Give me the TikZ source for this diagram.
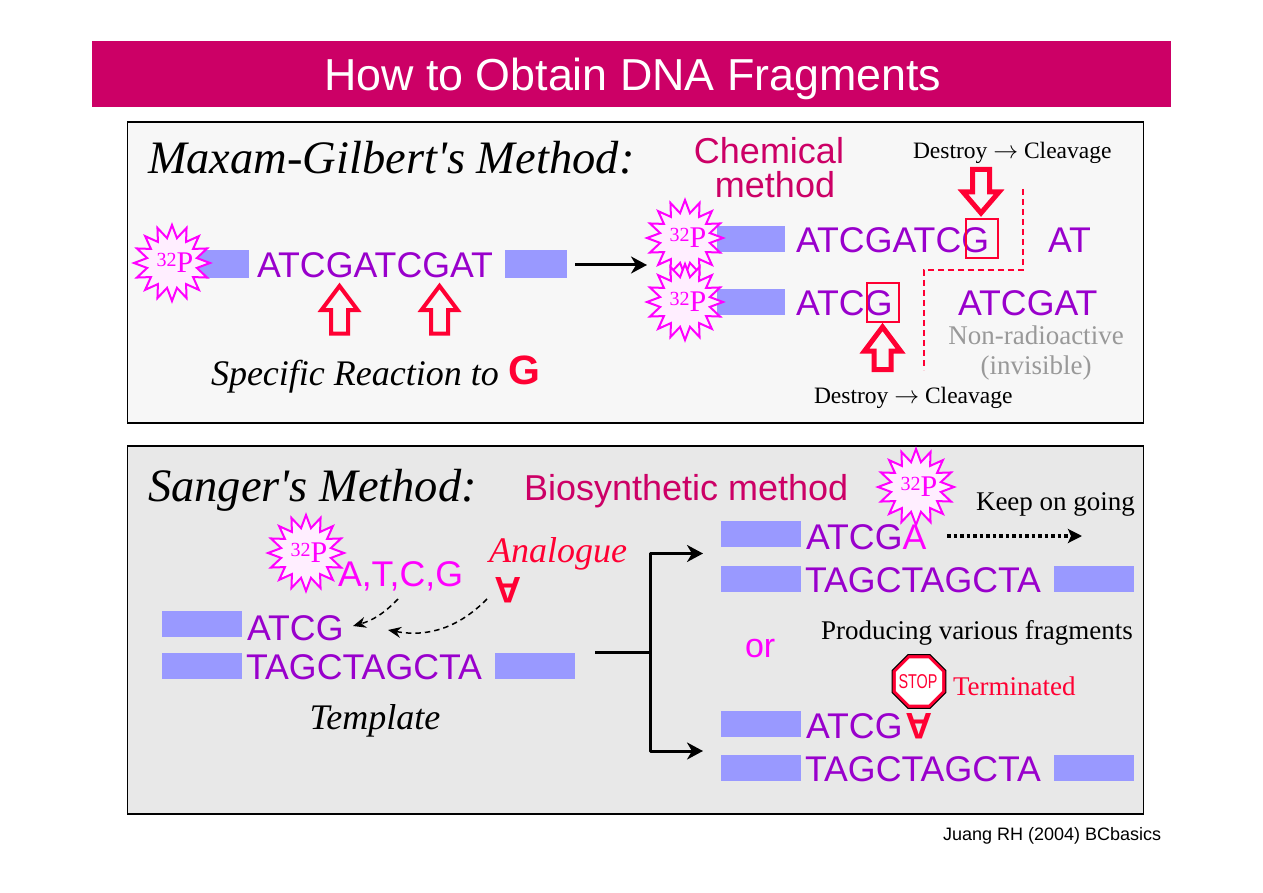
\documentclass[tikz,border=0pt]{standalone}
\usepackage{fontspec}
\setmainfont[Ligatures=TeXOff]{Liberation Serif}
\setsansfont{Liberation Sans}
\usetikzlibrary{shapes.geometric,arrows.meta}
\definecolor{band}{HTML}{CC0066}
\definecolor{purp}{HTML}{9900CC}
\definecolor{magn}{HTML}{FF00FF}
\definecolor{redd}{HTML}{FF0033}
\definecolor{barb}{HTML}{9999FF}
\definecolor{pfill}{HTML}{FFEEFF}
\newcommand{\fs}[1]{\fontsize{#1}{#1}\selectfont}
\newcommand{\sci}{{\fs{20}\raisebox{6pt}{32}}{\fs{30}P}}
\newcommand{\dc}{Destroy $\rightarrow$ Cleavage}
\tikzset{
  x=1pt,y=-1pt,
  txt/.style={inner sep=0,outer sep=0,anchor=base west},
  dna/.style={txt,font=\sffamily\fs{35.7},text=purp},
  ser/.style={txt,font=\fs{27},text=black},
  dcs/.style={txt,font=\fs{23.5},text=black},
  ttl/.style={txt,font=\itshape\fs{46.5},text=black},
  ital/.style={txt,font=\itshape\fs{36},text=black},
  meth/.style={txt,font=\sffamily\fs{36},text=band},
  bar/.style={fill=barb,draw=none,minimum width=80pt,minimum height=26pt,inner sep=0,outer sep=0,anchor=north west},
  panel/.style={draw=black,line width=1.5pt,inner sep=0,outer sep=0,anchor=north west,minimum width=1016pt},
  burst/.style={star,star points=16,star point ratio=1.5,minimum size=76pt,inner sep=0,outer sep=0,draw=magn,line width=2pt,fill=pfill},
  bursttxt/.style={inner sep=0,outer sep=0,text=magn,font=\fs{31}},
  hollow/.style={draw=redd,line width=4pt,miter limit=10,fill=none},
  hollowb/.style={draw=redd,line width=5pt,miter limit=10,fill=none},
  gbox/.style={draw=redd,line width=1.6pt,inner sep=0,minimum width=32pt,minimum height=39pt,anchor=north west},
  conn/.style={-{Stealth[length=16pt,width=17pt,inset=5pt]},line width=3pt,black},
  elb/.style={-{Stealth[length=16pt,width=17pt,inset=5pt]},line width=3pt,black,line join=round},
  dsh/.style={-{Stealth[length=13pt,width=11pt]},line width=1.5pt,dash pattern=on 5.5pt off 4pt,black},
  flip/.style={inner sep=0,outer sep=0,rotate=180,font=\sffamily\bfseries\fs{37},text=redd},
}
\newcommand{\uparr}[4][hollow]{\draw[#1] (#2,#3) -- (#2+18,#3+24) -- (#2+8.5,#3+24) -- (#2+8.5,#4) -- (#2-8.5,#4) -- (#2-8.5,#3+24) -- (#2-18,#3+24) -- cycle;}
\newcommand{\dnarr}[4][hollowb]{\draw[#1] (#2,#3) -- (#2+18,#3-21) -- (#2+8.5,#3-21) -- (#2+8.5,#4) -- (#2-8.5,#4) -- (#2-8.5,#3-21) -- (#2-18,#3-21) -- cycle;}
\begin{document}
\begin{tikzpicture}
\useasboundingbox (0,0) rectangle (1263,893);
\fill[white] (0,0) rectangle (1263,893);
% title
\node[fill=band,inner sep=0,outer sep=0,minimum width=1079pt,minimum height=66pt,anchor=north west] (titleband) at (92,41) {};
\node[txt,font=\sffamily\fs{44.8},text=white] (title) at (324,91) {How to Obtain DNA Fragments};
% panels
\node[panel,fill=black!3,minimum height=301pt] (panelA) at (127.5,122) {};
\node[panel,fill=black!9,minimum height=368pt] (panelB) at (127.5,446) {};
% upper panel
\node[ttl] (mg) at (148,174) {Maxam-Gilbert's Method:};
\node[anchor=base,inner sep=0,font=\sffamily\fs{36},text=band] (chem) at (769,164) {Chemical};
\node[anchor=base,inner sep=0,font=\sffamily\fs{36},text=band] (chem2) at (775,198) {method};
\node[dcs] (d1) at (913,159) {\dc};
\node[dcs] (d2) at (814,403) {\dc};
\node[bar,minimum width=62pt,minimum height=28pt] (b1) at (187,250) {};
\node[bar,minimum width=62pt,minimum height=28pt] (b2) at (505,250) {};
\node[burst] (p1) at (172,263) {};
\node[bursttxt] (p1t) at (175,263) {\sci};
\node[dna] (s1) at (257,277) {ATCGATCGAT};
\coordinate (a1s) at (575,265);
\coordinate (a1e) at (647,265);
\draw[conn] (a1s) -- (a1e);
\uparr{339.5}{286}{333.5}
\uparr{439.5}{286}{333.5}
\node[ital] (spec) at (211,385) {Specific Reaction to};
\node[txt,font=\sffamily\bfseries\fs{41},text=redd] (bigG) at (508,384) {G};
\node[bar,minimum width=68pt] (b3) at (717,226) {};
\node[bar,minimum width=68pt] (b4) at (717,289) {};
\node[burst] (p2) at (685,238) {};
\node[bursttxt] (p2t) at (688,238) {\sci};
\node[burst] (p3) at (685,302) {};
\node[bursttxt] (p3t) at (688,302) {\sci};
\node[dna] (s2) at (796,253) {ATCGATCG};
\node[dna] (s3) at (1048,253) {AT};
\node[dna] (s4) at (796,316) {ATCG};
\node[dna] (s5) at (958,316) {ATCGAT};
\node[gbox] (g1) at (965,218) {};
\node[gbox] (g2) at (866,282) {};
\dnarr{981}{213}{169.5}
\uparr[hollowb]{882.5}{327}{369.5}
\draw[redd,line width=1.5pt,dash pattern=on 6pt off 4pt] (1023,189) -- (1023,270) -- (924,270) -- (924,370);
\node[anchor=base,inner sep=0,font=\fs{27},text=black!40] (nr) at (1036,344) {Non-radioactive};
\node[anchor=base,inner sep=0,font=\fs{27},text=black!40] (inv) at (1036,374) {(invisible)};
% lower panel
\node[ttl] (sm) at (148,501) {Sanger's Method:};
\node[meth] (bio) at (524,500) {Biosynthetic method};
\node[burst] (p4) at (916,487) {};
\node[bursttxt] (p4t) at (919,487) {\sci};
\node[ser] (keep) at (976,510) {Keep on going};
\node[burst] (p5) at (306,553) {};
\node[bursttxt] (p5t) at (309,553) {\sci};
\node[dna,text=magn] (atcg) at (338,586) {A,T,C,G};
\node[txt,font=\itshape\fs{36},text=redd] (ana) at (489,562) {Analogue};
\node[flip] (fa) at (508,590) {A};
\node[bar] (b5) at (162,611) {};
\node[bar] (b6) at (162,653) {};
\node[bar] (b7) at (495,653) {};
\node[dna] (t1) at (247,640) {ATCG};
\node[dna] (t2) at (246,679) {TAGCTAGCTA};
\node[ital,anchor=base] (tmpl) at (375,729) {Template};
\coordinate (c1s) at (398,599);
\coordinate (c1e) at (353,626);
\coordinate (c2s) at (487,599);
\coordinate (c2e) at (388,630);
\draw[dsh] (c1s) to[bend left=15] (c1e);
\draw[dsh] (c2s) to[bend left=28] (c2e);
\coordinate (j0) at (595,652);
\coordinate (j1) at (650,652);
\coordinate (j2) at (650,553.5);
\coordinate (j3) at (650,751);
\coordinate (e1) at (703,553.5);
\coordinate (e2) at (703,751);
\draw[line width=3pt] (j0) -- (j1);
\draw[elb] (j1) -- (j2) -- (e1);
\draw[elb] (j1) -- (j3) -- (e2);
\node[bar] (b8) at (721,521) {};
\node[bar] (b9) at (721,566) {};
\node[bar] (b10) at (1054,566) {};
\node[bar] (b11) at (721,711) {};
\node[bar] (b12) at (721,755) {};
\node[bar] (b13) at (1054,755) {};
\node[dna] (u1) at (806,549) {ATCG\textcolor{magn}{A}};
\node[dna] (u2) at (805,592) {TAGCTAGCTA};
\coordinate (ds) at (947,536);
\coordinate (de) at (1082,536);
\draw[-{Stealth[length=14pt,width=14pt,inset=3pt]},line width=3.5pt,dash pattern=on 3.5pt off 3pt] (ds) -- (de);
\node[txt,font=\sffamily\fs{34},text=magn] (orr) at (745,657) {or};
\node[ser] (prod) at (821,639) {Producing various fragments};
\node[regular polygon,regular polygon sides=8,minimum size=58pt,inner sep=0,draw=black,line width=1pt,fill=redd] (so) at (919,681.5) {};
\node[regular polygon,regular polygon sides=8,minimum size=50pt,inner sep=0,fill=white] (st) at (919,681.5) {};
\node[inner sep=0,xscale=.72,font=\sffamily\fs{20},text=redd] (stt) at (918,682) {STOP};
\node[txt,font=\fs{27},text=redd] (term) at (953,695) {Terminated};
\node[dna] (u3) at (806,738) {ATCG};
\node[flip] (fb) at (919,726) {A};
\node[dna] (u4) at (805,781) {TAGCTAGCTA};
\node[txt,font=\sffamily\fs{18},text=black] (cite) at (943,840) {Juang RH (2004) BCbasics};
\end{tikzpicture}
\end{document}
